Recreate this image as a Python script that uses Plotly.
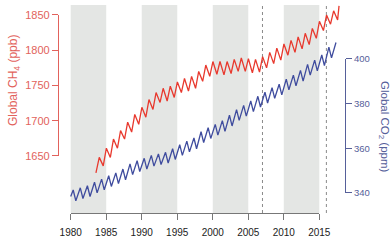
import plotly.graph_objects as go

# ---- data ----
co2_years = list(range(1980, 2018))
co2_peak = [341.3, 342.3, 343.2, 344.8, 346.2, 347.7, 349.0, 350.7, 353.0, 354.4,
            355.5, 356.8, 357.5, 358.2, 359.8, 361.6, 363.2, 364.6, 367.4, 369.2,
            370.7, 372.4, 374.8, 377.3, 379.2, 381.2, 383.3, 385.1, 387.2, 388.7,
            391.0, 392.8, 394.9, 397.6, 399.5, 401.8, 405.3, 407.4]
co2_trough = [336.5, 337.5, 338.4, 340.0, 341.4, 342.9, 344.2, 345.9, 348.2, 349.6,
              350.7, 352.0, 352.7, 353.4, 355.0, 356.8, 358.4, 359.8, 362.6, 364.4,
              365.9, 367.6, 370.0, 372.5, 374.4, 376.4, 378.5, 380.3, 382.4, 383.9,
              386.2, 388.0, 390.1, 392.8, 394.7, 397.0, 400.5, 402.6]
co2_start = 338.4

ch4_years = list(range(1984, 2018))
ch4_peak = [1648, 1661, 1674, 1686, 1698, 1709, 1719, 1730, 1740, 1746,
            1749, 1755, 1760, 1763, 1770, 1779, 1784, 1784, 1784, 1787,
            1789, 1788, 1787, 1791, 1797, 1803, 1809, 1814, 1819, 1824,
            1831, 1841, 1850, 1856]
ch4_trough = [1636, 1648, 1661, 1674, 1684, 1695, 1705, 1716, 1726, 1728,
              1733, 1740, 1742, 1746, 1756, 1763, 1766, 1765, 1767, 1770,
              1770, 1768, 1769, 1775, 1781, 1786, 1793, 1797, 1802, 1808,
              1817, 1828, 1837, 1843]
ch4_start = (1983.55, 1626)
ch4_end = (2017.78, 1863)

band_starts = [1980, 1990, 2000, 2010]
band_width = 5
event_years = [2007, 2016]

ch4_ticks = [1650, 1700, 1750, 1800, 1850]
co2_ticks = [340, 360, 380, 400]
year_ticks = [1980, 1985, 1990, 1995, 2000, 2005, 2010, 2015]

# ---- build series ----
co2_x, co2_y = [1980.0], [co2_start]
for yr, p, t in zip(co2_years, co2_peak, co2_trough):
    co2_x += [yr + 0.35]
    co2_y += [p]
    if yr < 2017:
        co2_x += [yr + 0.72]
        co2_y += [t]

ch4_x, ch4_y = [ch4_start[0]], [ch4_start[1]]
for yr, p, t in zip(ch4_years, ch4_peak, ch4_trough):
    ch4_x += [yr + 0.02, yr + 0.58]
    ch4_y += [p, t]
ch4_x.append(ch4_end[0])
ch4_y.append(ch4_end[1])

RED = "#e8392e"
RED_AX = "#e2625c"
BLUE = "#3f4c9e"
BLUE_AX = "#56609a"
FONT = "Liberation Sans, Arial, sans-serif"

fig = go.Figure()
fig.add_trace(go.Scatter(x=co2_x, y=co2_y, mode="lines", line=dict(color=BLUE, width=1.3),
                         xaxis="x", yaxis="y2", hoverinfo="skip"))
fig.add_trace(go.Scatter(x=ch4_x, y=ch4_y, mode="lines", line=dict(color=RED, width=1.3),
                         xaxis="x", yaxis="y", hoverinfo="skip"))
# anchors for the visible (shortened) axes
fig.add_trace(go.Scatter(x=[1990], y=[1700], mode="markers", marker=dict(opacity=0),
                         xaxis="x", yaxis="y3", hoverinfo="skip"))
fig.add_trace(go.Scatter(x=[1990], y=[360], mode="markers", marker=dict(opacity=0),
                         xaxis="x", yaxis="y4", hoverinfo="skip"))
fig.add_trace(go.Scatter(x=[1990], y=[1700], mode="markers", marker=dict(opacity=0),
                         xaxis="x2", yaxis="y", hoverinfo="skip"))

shapes = []
for b in band_starts:
    shapes.append(dict(type="rect", xref="x", yref="paper", x0=b, x1=b + band_width,
                       y0=0.0095, y1=1, fillcolor="#e4e6e4", line=dict(width=0), layer="below"))
for e in event_years:
    shapes.append(dict(type="line", xref="x", yref="paper", x0=e, x1=e, y0=0.0095, y1=1,
                       line=dict(color="#8a8a8a", width=1, dash="dot"), layer="below"))

fig.update_layout(
    width=390, height=242,
    margin=dict(l=58, r=45, t=5, b=27, autoexpand=False),
    paper_bgcolor="white", plot_bgcolor="rgba(0,0,0,0)",
    showlegend=False,
    hovermode=False,
    font=dict(family=FONT),
    shapes=shapes,
    xaxis=dict(visible=False, range=[1978.21, 2018.62], domain=[0, 1], anchor="y",
               automargin=False),
    xaxis2=dict(range=[1980, 2015], domain=[0.04425, 0.9105], anchor="y", automargin=False,
                tickvals=year_ticks, ticks="outside", ticklen=6, tickcolor="#777777",
                ticklabelstandoff=4,
                showline=True, linecolor="#777777", linewidth=1, showgrid=False, zeroline=False,
                tickfont=dict(size=10, color="#222222", family=FONT)),
    yaxis=dict(visible=False, range=[1569.1, 1864.2], domain=[0.0095, 1], anchor="x",
               automargin=False),
    yaxis2=dict(visible=False, range=[331.0, 424.2], overlaying="y", anchor="x",
                automargin=False),
    yaxis3=dict(range=[1650, 1850], domain=[0.281, 0.9524], anchor="free", position=0,
                automargin=False,
                side="left", tickvals=ch4_ticks, ticks="outside", ticklen=6, tickcolor=RED_AX,
                showline=True, linecolor=RED_AX, linewidth=1.3, showgrid=False, zeroline=False,
                tickfont=dict(size=11, color=RED_AX, family=FONT)),
    yaxis4=dict(range=[340, 400], domain=[0.1048, 0.7429], anchor="free", position=1,
                automargin=False,
                side="right", tickvals=co2_ticks, ticks="outside", ticklen=6, tickcolor=BLUE_AX,
                showline=True, linecolor=BLUE_AX, linewidth=1.3, showgrid=False, zeroline=False,
                tickfont=dict(size=9.5, color=BLUE_AX, family=FONT)),
    annotations=[
        dict(text="Global CH<sub>4</sub> (ppb)", xref="paper", yref="paper",
             x=-0.1516, y=0.6405, textangle=-90, showarrow=False,
             xanchor="center", yanchor="middle", font=dict(size=12, color=RED_AX, family=FONT)),
        dict(text="Global CO<sub>2</sub> (ppm)", xref="paper", yref="paper",
             x=1.1359, y=0.419, textangle=90, showarrow=False,
             xanchor="center", yanchor="middle", font=dict(size=11.5, color=BLUE_AX, family=FONT)),
    ],
)

fig.write_html("out.html", config={"displayModeBar": False},
               post_script="document.body.style.margin='0';")
